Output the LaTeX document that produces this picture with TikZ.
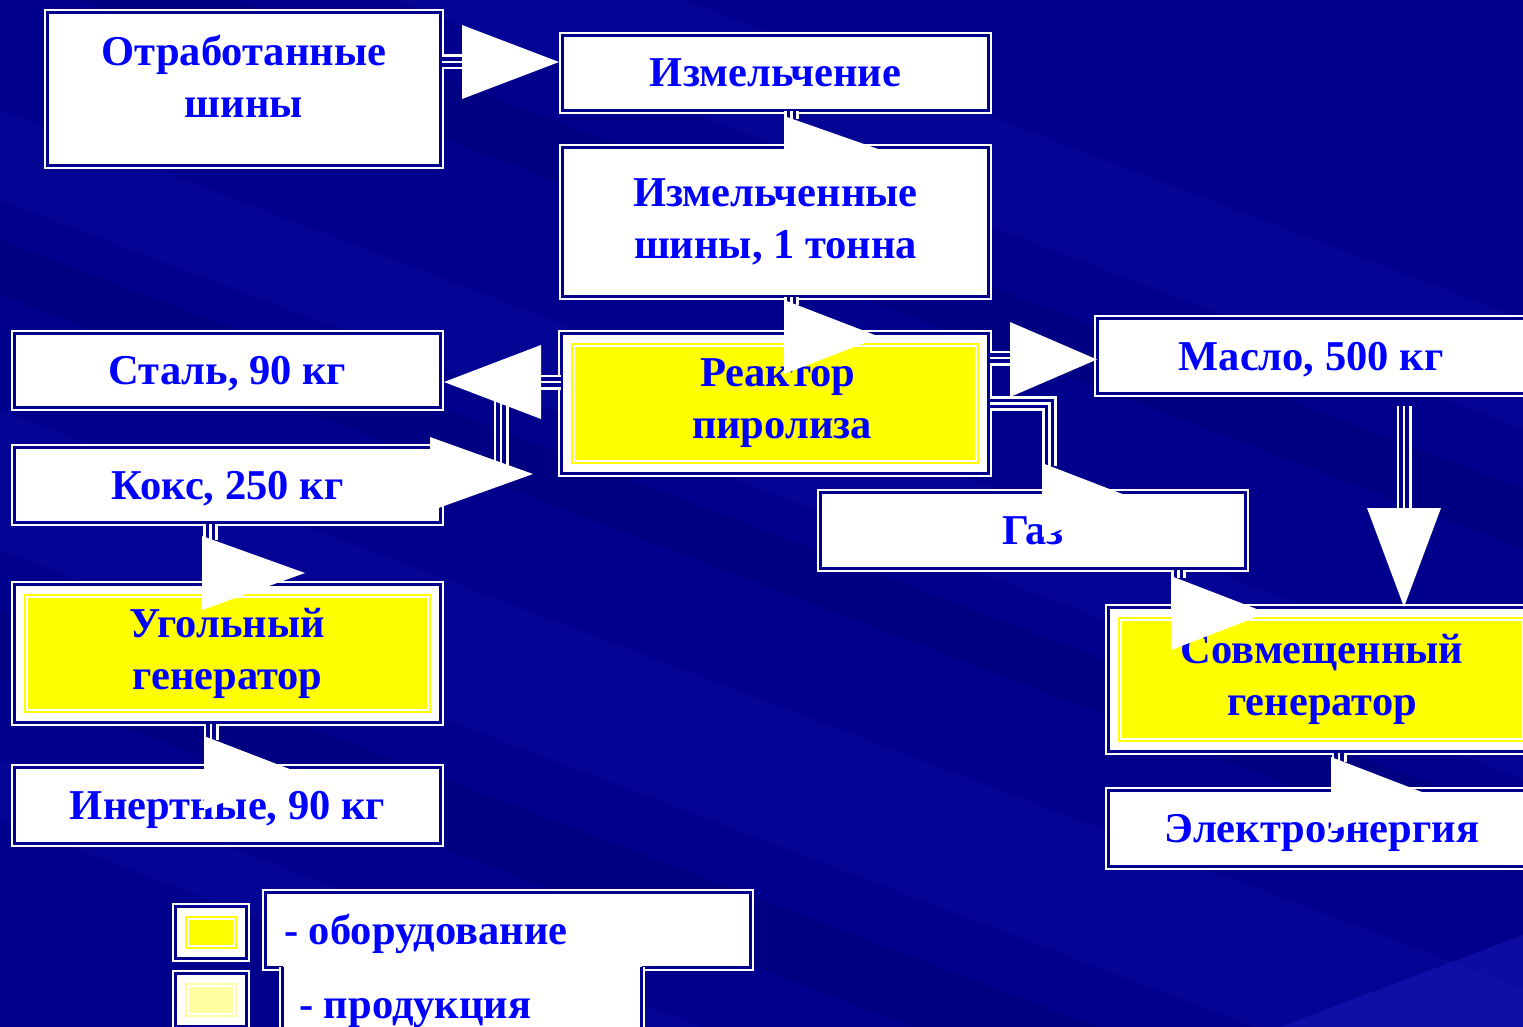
\documentclass[tikz,border=0pt]{standalone}
\usepackage{fontspec}
\setmainfont{Liberation Serif}
\definecolor{bg}{RGB}{0,0,140}
\definecolor{tblue}{RGB}{0,0,255}
\definecolor{pyel}{RGB}{255,255,0}
\definecolor{lyel}{RGB}{255,255,160}
\definecolor{bglight}{RGB}{25,25,185}
\definecolor{bgdark}{RGB}{0,0,100}
\tikzset{
  box/.style={draw=white, double=bg, line width=2pt, double distance=3pt, fill=white,
    inner sep=0pt, align=center, text=tblue, font=\fontsize{42.5}{52}\selectfont\bfseries},
  one/.style={text height=28pt, text depth=0pt},
  yboxc/.style={box, path picture={
    \fill[#1] ([shift={(9.5pt,-9.5pt)}]path picture bounding box.north west) rectangle ([shift={(-9.5pt,9.5pt)}]path picture bounding box.south east);
    \draw[white, line width=2pt] ([shift={(12.5pt,-12.5pt)}]path picture bounding box.north west) rectangle ([shift={(-12.5pt,12.5pt)}]path picture bounding box.south east);}},
  ybox/.style={yboxc=pyel},
  lybox/.style={yboxc=lyel},
  txt/.style={inner sep=0pt, align=center, text=tblue, font=\fontsize{42.5}{52}\selectfont\bfseries},
  dline/.style={draw=white, double=bg, line width=2pt, double distance=3pt},
  conn/.style={draw=white, line width=2.5pt, preaction={draw=white, line width=15pt}, preaction={draw=bg, line width=9.5pt}},
  tri/.style={fill=white},
  band/.style={opacity=0.22}
}
\begin{document}
\begin{tikzpicture}[x=1pt,y=-1pt]
\useasboundingbox (0,0) rectangle (1523,1027);
% background
\fill[bg] (0,0) rectangle (1523,1027);
\begin{scope}
\clip (0,0) rectangle (1523,1027);
\foreach \yo/\t/\c in {-260/110/bglight, -90/60/bgdark, 110/90/bglight, 240/55/bgdark, 410/140/bglight, 610/70/bgdark, 760/60/bglight}{
  \fill[\c, band] (0,\yo) -- (1523,\yo+579) -- (1523,\yo+579+\t) -- (0,\yo+\t) -- cycle;
}
\fill[bglight, opacity=0.5] (1280,1027) -- (1523,935) -- (1523,1027) -- cycle;
\end{scope}

% boxes
\node[box, minimum width=393pt, minimum height=153pt] (otr) at (244,89) {};
\node[txt] (otrT) at (244,76) {Отработанные\\шины};
\node[box, one, minimum width=426pt, minimum height=75pt] (izm) at (775.5,73) {Измельчение};
\node[box, minimum width=426pt, minimum height=148pt] (izm2) at (775.5,222) {Измельченные\\шины, 1 тонна};
\node[ybox, minimum width=427pt, minimum height=140pt] (reac) at (775,403.5) {\hspace*{6pt}Реактор\\\hspace*{14pt}пиролиза};
\node[box, one, minimum width=426pt, minimum height=74pt] (stal) at (227.5,370.5) {Сталь, 90 кг};
\node[box, one, minimum width=426pt, minimum height=75pt] (koks) at (227.5,485) {Кокс, 250 кг};
\node[ybox, minimum width=426pt, minimum height=138pt] (ugol) at (227.5,653.5) {Угольный\\генератор};
\node[box, one, minimum width=426pt, minimum height=76pt] (inert) at (227.5,805.5) {Инертные, 90 кг};
\node[box, one, minimum width=427pt, minimum height=75pt] (maslo) at (1311,356) {Масло, 500 кг};
\node[box, one, minimum width=425pt, minimum height=76pt] (gaz) at (1033,530.5) {Газ};
\node[ybox, minimum width=427pt, minimum height=144pt] (sovm) at (1322,679.5) {Совмещенный\\генератор};
\node[box, one, minimum width=427pt, minimum height=76pt] (elec) at (1322,828.5) {Электроэнергия};

% legend
\node[ybox, minimum width=71pt, minimum height=52pt] (legE) at (211,932.5) {};
\node[lybox, minimum width=71pt, minimum height=53pt] (legP) at (211,1000) {};
\node[box, minimum width=485pt, minimum height=75pt] (legEb) at (508,930) {};
\node[txt, one, anchor=west] (legEt) at (284,930) {- оборудование};
\node[fill=white, inner sep=0pt, minimum width=359pt, minimum height=80pt] (legPb) at (462,1003) {};
\draw[dline] ([yshift=-4pt]legPb.north west) -- (legPb.south west);
\draw[dline] ([yshift=-4pt]legPb.north east) -- (legPb.south east);
\node[txt, one, anchor=west] (legPt) at (299,1004) {- продукция};

% connector lines
\coordinate (aB) at (462,62);
\coordinate (dB) at (541,382);
\coordinate (eB) at (501,466);
\coordinate (fB) at (1010,358);
\coordinate (gB) at (1049.5,466);
\coordinate (iB) at (1404,510);
\draw[conn] ([yshift=27pt]otr.east) -- (aB);
\draw[conn] ([xshift=16pt]izm.south) -- ++(0,8);
\draw[conn] ([xshift=16pt]izm2.south) -- ++(0,8);
\draw[conn] ([yshift=21.5pt]reac.west) -| (eB);
\draw[conn] ([yshift=21.5pt]reac.west) -- (dB);
\draw[conn] ([yshift=45.5pt]reac.east) -- (fB);
\draw[conn] (reac.east) -| (gB);
\draw[conn] ([xshift=145.5pt]gaz.south) -- ++(0,8);
\draw[conn] ([xshift=93pt,yshift=-11.5pt]maslo.south) -- (iB);
\draw[conn] ([xshift=17pt]sovm.south) -- ++(0,9);
\draw[conn] ([xshift=-17pt]koks.south) -- ++(0,16);
\draw[conn] ([xshift=-16.5pt]ugol.south) -- ++(0,16);

% arrowheads
\fill[tri] (462,25) -- ++(0,74) -- ++(97,-37) -- cycle;
\fill[tri] (784,116) -- ++(0,68) -- ++(97,-34) -- cycle;
\fill[tri] (784,300) -- ++(0,74) -- ++(96,-37) -- cycle;
\fill[tri] (541,345) -- (541,419) -- (444,382) -- cycle;
\fill[tri] (430,437) -- ++(0,74) -- ++(103,-37) -- cycle;
\fill[tri] (1010,322) -- ++(0,75) -- ++(87,-37.5) -- cycle;
\fill[tri] (1042,463) -- ++(0,74) -- ++(96,-37) -- cycle;
\fill[tri] (1171,576) -- ++(0,74) -- ++(96,-37) -- cycle;
\fill[tri] (1367,508) -- (1441,508) -- (1404,607) -- cycle;
\fill[tri] (1331,757) -- ++(0,74) -- ++(96,-37) -- cycle;
\fill[tri] (202,536) -- ++(0,74) -- ++(103,-37) -- cycle;
\fill[tri] (204,736) -- ++(0,74) -- ++(96,-37) -- cycle;
\end{tikzpicture}
\end{document}
